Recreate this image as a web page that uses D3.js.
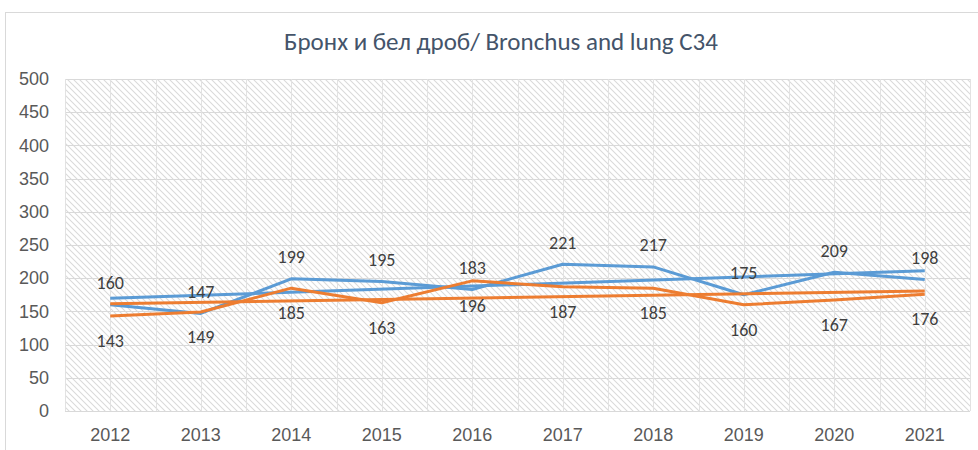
<!DOCTYPE html>
<html>
<head>
<meta charset="utf-8">
<script src="https://cdn.jsdelivr.net/npm/d3@7"></script>
<style>
  body { margin: 0; background: #fff; }
  svg { display: block; font-family: Carlito, "Liberation Sans", Arial, sans-serif; }
</style>
</head>
<body>
<svg id="chart"></svg>
<script>
// data
const years = ["2012", "2013", "2014", "2015", "2016", "2017", "2018", "2019", "2020", "2021"];
const blueValues = [160, 147, 199, 195, 183, 221, 217, 175, 209, 198];
const orangeValues = [143, 149, 185, 163, 196, 187, 185, 160, 167, 176];
const yTicks = [0, 50, 100, 150, 200, 250, 300, 350, 400, 450, 500];
const title = "Бронх и бел дроб/ Bronchus and lung C34";

const width = 978;
const height = 450;
const margin = {top: 79, right: 8, bottom: 39, left: 65};

const svg = d3.select("#chart")
	.attr("width", width)
	.attr("height", height);

// chart area frame
svg.append("rect")
	.attr("x", 5.5)
	.attr("y", 12.5)
	.attr("width", width + 20)
	.attr("height", height + 20)
	.attr("fill", "#fff")
	.attr("stroke", "#d9d9d9");

const defs = svg.append("defs");
defs.append("pattern")
	.attr("id", "hatch")
	.attr("patternUnits", "userSpaceOnUse")
	.attr("width", 6)
	.attr("height", 6)
	.append("path")
	.attr("d", "M0,0L6,6M-2,4L2,8M4,-2L8,2")
	.attr("stroke", "#dadada")
	.attr("stroke-width", 1.1);

const x = d3.scaleBand()
	.domain(years)
	.range([margin.left, width - margin.right]);
const y = d3.scaleLinear()
	.domain([0, 500])
	.range([height - margin.bottom, margin.top]);

const cx = d => x(d) + x.bandwidth() / 2;

// plot area with hatching
svg.append("rect")
	.attr("x", margin.left)
	.attr("y", y(500))
	.attr("width", x.range()[1] - margin.left)
	.attr("height", y(0) - y(500))
	.attr("fill", "url(#hatch)");

// horizontal gridlines
svg.append("g")
	.selectAll("line")
	.data(yTicks)
	.join("line")
	.attr("x1", margin.left)
	.attr("x2", x.range()[1])
	.attr("y1", d => Math.round(y(d)) + 0.5)
	.attr("y2", d => Math.round(y(d)) + 0.5)
	.attr("stroke", "#d9d9d9");

// vertical gridlines at band edges and centres
const vLines = [];
years.forEach(d => { vLines.push(x(d)); vLines.push(cx(d)); });
vLines.push(x.range()[1]);
svg.append("g")
	.selectAll("line")
	.data(vLines)
	.join("line")
	.attr("x1", d => Math.round(d) + 0.5)
	.attr("x2", d => Math.round(d) + 0.5)
	.attr("y1", y(500))
	.attr("y2", y(0))
	.attr("stroke", "#e2e2e2");

// axes
const yAxis = g => g
	.attr("transform", `translate(${margin.left - 16},0)`)
	.call(d3.axisLeft(y).tickValues(yTicks).tickSize(0).tickPadding(0))
	.call(g => g.select(".domain").remove());
svg.append("g")
	.call(yAxis)
	.selectAll("text")
	.attr("fill", "#595959")
	.attr("font-size", 18)
	.attr("font-family", null);

const xAxis = g => g
	.attr("transform", `translate(0,${y(0)})`)
	.call(d3.axisBottom(x).tickSize(0).tickPadding(17))
	.call(g => g.select(".domain").remove());
svg.append("g")
	.call(xAxis)
	.selectAll("text")
	.attr("fill", "#595959")
	.attr("font-size", 18)
	.attr("font-family", null);

// title
svg.append("text")
	.attr("x", 501)
	.attr("y", 50)
	.attr("text-anchor", "middle")
	.attr("fill", "#44546a")
	.attr("font-size", 25)
	.text(title);

// linear trend of a series
function trend(values) {
	const n = values.length;
	const mx = d3.mean(values, (v, i) => i);
	const my = d3.mean(values);
	const sxy = d3.sum(values, (v, i) => (i - mx) * (v - my));
	const sxx = d3.sum(values, (v, i) => (i - mx) * (i - mx));
	const b = sxy / sxx;
	const a = my - b * mx;
	return [a, a + b * (n - 1)];
}

const line = d3.line()
	.x((d, i) => cx(years[i]))
	.y(d => y(d));
const trendLine = d3.line()
	.x((d, i) => cx(i === 0 ? years[0] : years[years.length - 1]))
	.y(d => y(d));

const series = [
	{values: blueValues, color: "#5b9bd5", dy: -22},
	{values: orangeValues, color: "#ed7d31", dy: 25}
];

series.forEach(s => {
	svg.append("path")
		.attr("fill", "none")
		.attr("stroke", s.color)
		.attr("stroke-width", 3)
		.attr("stroke-linejoin", "round")
		.attr("d", line(s.values));
	svg.append("path")
		.attr("fill", "none")
		.attr("stroke", s.color)
		.attr("stroke-width", 3)
		.attr("d", trendLine(trend(s.values)));
});

series.forEach(s => {
	svg.append("g")
		.selectAll("text")
		.data(s.values)
		.join("text")
		.attr("x", (d, i) => cx(years[i]))
		.attr("y", d => y(d) + s.dy)
		.attr("dy", "0.35em")
		.attr("text-anchor", "middle")
		.attr("fill", "#404040")
		.attr("font-size", 18)
		.text(d => d);
});
</script>
</body>
</html>
